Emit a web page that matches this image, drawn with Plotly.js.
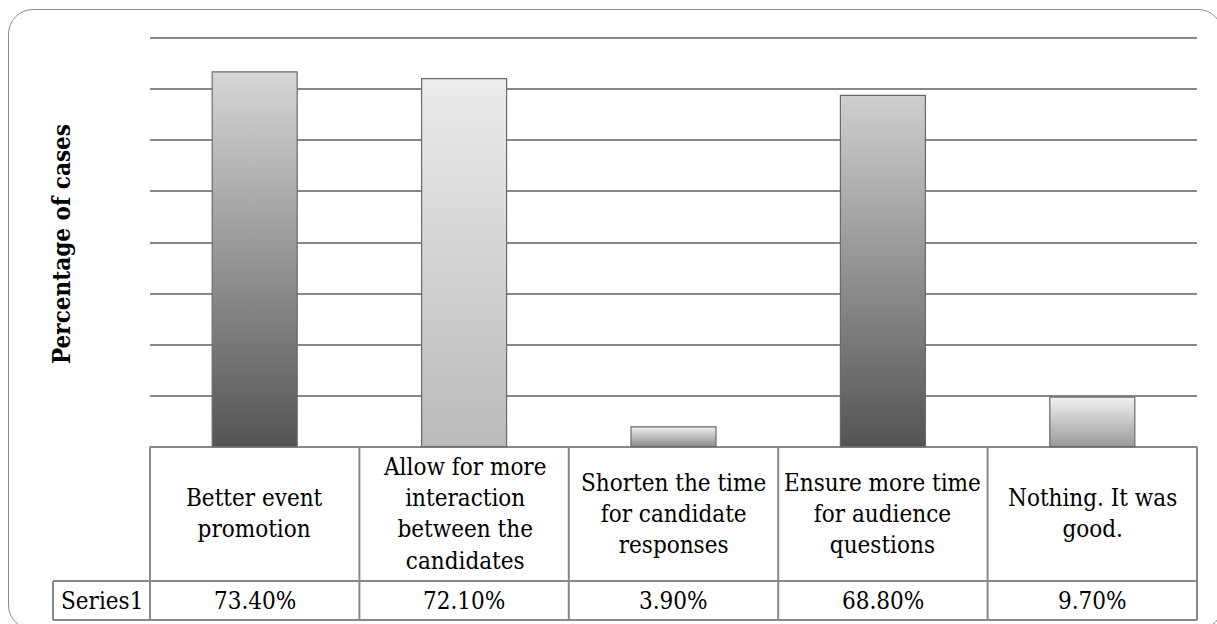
<!DOCTYPE html>
<html>
<head>
<meta charset="utf-8">
<script src="https://cdn.plot.ly/plotly-3.0.1.min.js"></script>
<style>
html,body{margin:0;padding:0;background:#fff;width:1217px;height:624px;overflow:hidden;}
#frame{position:absolute;left:8px;top:9px;width:1215px;height:621px;border:1.5px solid #8a8a8a;border-radius:25px;box-sizing:border-box;}
#chart{position:absolute;left:0;top:0;width:1217px;height:624px;}
</style>
</head>
<body>
<div id="frame"></div>
<div id="chart"></div>
<script>
// ---- data ----
const categories = [
  "Better event<br>promotion",
  "Allow for more<br>interaction<br>between the<br>candidates",
  "Shorten the time<br>for candidate<br>responses",
  "Ensure more time<br>for audience<br>questions",
  "Nothing. It was<br>good."
];
const values = [73.4, 72.1, 3.9, 68.8, 9.7];
const seriesName = "Series1";
const yAxisTitle = "Percentage of cases";
const yTicks = [0, 10, 20, 30, 40, 50, 60, 70, 80];

// ---- style ----
const W = 1217, H = 624;
const M = {l: 150, r: 20, t: 37, b: 176};
const plotW = W - M.l - M.r, plotH = H - M.t - M.b;
const fx = px => (px - M.l) / plotW;
const fy = py => (H - M.b - py) / plotH;
const lineColor = "#888888";
const lineW = 2;
const fontFam = "'DejaVu Serif Condensed', 'DejaVu Serif', serif";
const fontSize = 24;
const gradStops = [
  ["#d6d6d6", "#545454"],
  ["#ececec", "#bababa"],
  ["#f2f2f2", "#8a8a8a"],
  ["#cfcfcf", "#545454"],
  ["#f2f2f2", "#999999"]
];

const n = categories.length;
const tableTop = 446.7, tableTopRowBottom = 581, tableBottom = 620, seriesLeft = 53;

const shapes = [];
for (let i = 0; i <= n; i++) {
  shapes.push({type: "line", xref: "paper", yref: "paper",
    x0: i / n, x1: i / n, y0: fy(tableTop), y1: fy(tableBottom),
    line: {color: lineColor, width: lineW}});
}
[tableTopRowBottom, tableBottom].forEach(py => shapes.push({
  type: "line", xref: "paper", yref: "paper",
  x0: fx(seriesLeft), x1: 1, y0: fy(py), y1: fy(py),
  line: {color: lineColor, width: lineW}}));
shapes.push({type: "line", xref: "paper", yref: "paper",
  x0: fx(seriesLeft), x1: fx(seriesLeft), y0: fy(tableTopRowBottom), y1: fy(tableBottom),
  line: {color: lineColor, width: lineW}});

const txtFont = {family: fontFam, size: fontSize, color: "#000"};
const annotations = [];
categories.forEach((c, i) => {
  annotations.push({x: c, xref: "x", y: fy((tableTop + tableTopRowBottom) / 2), yref: "paper",
    text: c, showarrow: false, xanchor: "center", yanchor: "middle", font: txtFont});
  annotations.push({x: c, xref: "x", y: fy((tableTopRowBottom + tableBottom) / 2), yref: "paper",
    text: values[i].toFixed(2) + "%", showarrow: false, xanchor: "center", yanchor: "middle", font: txtFont});
});
annotations.push({x: fx((seriesLeft + M.l) / 2), xref: "paper", y: fy((tableTopRowBottom + tableBottom) / 2), yref: "paper",
  text: seriesName, showarrow: false, xanchor: "center", yanchor: "middle", font: txtFont});
annotations.push({x: fx(62), xref: "paper", y: fy(244), yref: "paper",
  text: "<b>" + yAxisTitle + "</b>", textangle: -90, showarrow: false,
  xanchor: "center", yanchor: "middle", font: txtFont});

const trace = {
  type: "bar", x: categories, y: values, name: seriesName,
  marker: {color: gradStops.map(s => s[1]), line: {color: "#6a6a6a", width: 1.2}},
  hoverinfo: "none"
};

const layout = {
  width: W, height: H, margin: M,
  paper_bgcolor: "rgba(0,0,0,0)", plot_bgcolor: "rgba(0,0,0,0)",
  showlegend: false, bargap: 0.594,
  xaxis: {type: "category", range: [-0.5, n - 0.5], showticklabels: false, showgrid: false,
    zeroline: false, showline: false, ticks: "", fixedrange: true},
  yaxis: {range: [-0.25, 80.25], tickvals: yTicks, showticklabels: false, showgrid: true,
    gridcolor: lineColor, gridwidth: lineW, zeroline: false, showline: false, ticks: "", fixedrange: true},
  shapes: shapes, annotations: annotations
};

Plotly.newPlot("chart", [trace], layout, {displayModeBar: false, staticPlot: true}).then(gd => {
  const ns = "http://www.w3.org/2000/svg";
  const svg = gd.querySelector("svg.main-svg");
  let defs = svg.querySelector("defs");
  if (!defs) { defs = document.createElementNS(ns, "defs"); svg.insertBefore(defs, svg.firstChild); }
  gradStops.forEach((s, i) => {
    const lg = document.createElementNS(ns, "linearGradient");
    lg.setAttribute("id", "barGrad" + i);
    lg.setAttribute("x1", "0"); lg.setAttribute("y1", "0");
    lg.setAttribute("x2", "0"); lg.setAttribute("y2", "1");
    [[0, s[0]], [1, s[1]]].forEach(([o, c]) => {
      const st = document.createElementNS(ns, "stop");
      st.setAttribute("offset", o); st.setAttribute("stop-color", c);
      lg.appendChild(st);
    });
    defs.appendChild(lg);
  });
  gd.querySelectorAll(".barlayer .point path").forEach((p, i) => {
    p.style.fill = "url(#barGrad" + i + ")";
  });
});
</script>
</body>
</html>
